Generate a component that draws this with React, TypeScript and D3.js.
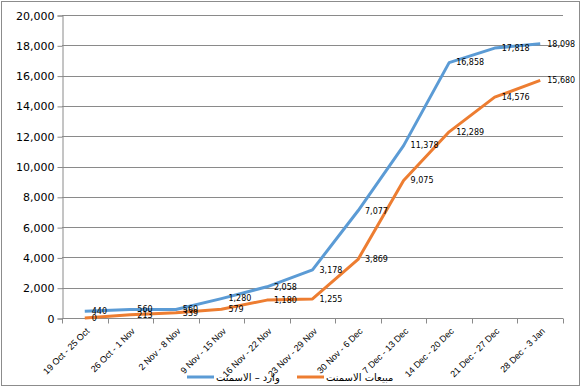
import * as d3 from "d3";
import { useEffect, useRef } from "react";

// weekly periods on the x axis
const weeks = [
  "19 Oct - 25 Oct",
  "26 Oct - 1 Nov",
  "2 Nov - 8 Nov",
  "9 Nov - 15 Nov",
  "16 Nov - 22 Nov",
  "23 Nov - 29 Nov",
  "30 Nov - 6 Dec",
  "7 Dec - 13 Dec",
  "14 Dec - 20 Dec",
  "21 Dec - 27 Dec",
  "28 Dec - 3 Jan",
];

const imports = [440, 560, 560, 1280, 2058, 3178, 7077, 11378, 16858, 17818, 18098];
const sales = [0, 213, 339, 579, 1180, 1255, 3869, 9075, 12289, 14576, 15680];

const yTicks = [0, 2000, 4000, 6000, 8000, 10000, 12000, 14000, 16000, 18000, 20000];

const series = [
  { name: "وارد – الاسمنت", values: imports, color: "#5B9BD5" },
  { name: "مبيعات الاسمنت", values: sales, color: "#ED7D31" },
];

export default function App() {
  const svgRef = useRef<SVGSVGElement>(null);

  useEffect(() => {
    const width = 581;
    const height = 387;
    const margin = { top: 15, right: 18, bottom: 69, left: 62 };

    const svg = d3.select(svgRef.current);
    svg.selectAll("*").remove();

    // outer chart frame
    svg
      .append("rect")
      .attr("x", 1.5)
      .attr("y", 1.5)
      .attr("width", width - 3)
      .attr("height", height - 3)
      .attr("fill", "white")
      .attr("stroke", "#8c8c8c");

    const x = d3
      .scaleBand()
      .domain(weeks)
      .range([margin.left, width - margin.right]);
    const y = d3
      .scaleLinear()
      .domain([0, 20000])
      .range([height - margin.bottom, margin.top]);

    // gridlines
    svg
      .append("g")
      .selectAll("line")
      .data(yTicks.slice(1))
      .enter()
      .append("line")
      .attr("x1", margin.left)
      .attr("x2", width - margin.right)
      .attr("y1", (d) => Math.round(y(d)) + 0.5)
      .attr("y2", (d) => Math.round(y(d)) + 0.5)
      .attr("stroke", "#8a8a8a");

    // y axis
    const yAxis = svg
      .append("g")
      .attr("transform", `translate(${margin.left + 0.5},0.5)`)
      .call(
        d3
          .axisLeft(y)
          .tickValues(yTicks)
          .tickFormat(d3.format(","))
          .tickSize(5)
          .tickPadding(3)
      );
    yAxis.select(".domain").attr("stroke", "#8a8a8a");
    yAxis.selectAll(".tick line").attr("stroke", "#8a8a8a");
    yAxis
      .selectAll(".tick text")
      .attr("fill", "#000")
      .style("font-family", "DejaVu Sans, Verdana, sans-serif")
      .style("font-size", "11px");

    // x axis with ticks at band boundaries
    const xg = svg
      .append("g")
      .attr("transform", `translate(0,${Math.round(y(0)) + 0.5})`);
    xg.append("line")
      .attr("x1", margin.left)
      .attr("x2", width - margin.right)
      .attr("stroke", "#8a8a8a");
    const bounds = weeks.map((w) => x(w) as number).concat([width - margin.right]);
    xg.selectAll(".tk")
      .data(bounds)
      .enter()
      .append("line")
      .attr("x1", (d) => Math.round(d) + 0.5)
      .attr("x2", (d) => Math.round(d) + 0.5)
      .attr("y1", 0)
      .attr("y2", 5)
      .attr("stroke", "#8a8a8a");
    xg.selectAll(".lbl")
      .data(weeks)
      .enter()
      .append("text")
      .attr(
        "transform",
        (d) => `translate(${(x(d) as number) + x.bandwidth() / 2 + 3},${11}) rotate(-45)`
      )
      .attr("text-anchor", "end")
      .attr("dy", "0.35em")
      .style("font-family", "Liberation Sans, Arial, sans-serif")
      .style("font-size", "9px")
      .attr("fill", "#000")
      .text((d) => d);

    const cx = (i: number) => (x(weeks[i]) as number) + x.bandwidth() / 2;
    const line = d3
      .line<number>()
      .x((d, i) => cx(i))
      .y((d) => y(d));

    series.forEach((s) => {
      svg
        .append("path")
        .datum(s.values)
        .attr("d", line)
        .attr("fill", "none")
        .attr("stroke", s.color)
        .attr("stroke-width", 3)
        .attr("stroke-linejoin", "round");
    });

    // data labels, to the right of each point
    series.forEach((s) => {
      svg
        .append("g")
        .selectAll("text")
        .data(s.values)
        .enter()
        .append("text")
        .attr("x", (d, i) => cx(i) + 7)
        .attr("y", (d) => y(d))
        .attr("dy", "0.35em")
        .style("font-family", "DejaVu Sans, Verdana, sans-serif")
        .style("font-size", "8px")
        .attr("fill", "#000")
        .text((d) => d3.format(",")(d));
    });

    // legend
    const legend = svg.append("g").attr("transform", "translate(0,377)");
    const legendPos = [187, 297];
    series.forEach((s, i) => {
      legend
        .append("line")
        .attr("x1", legendPos[i])
        .attr("x2", legendPos[i] + 27)
        .attr("stroke", s.color)
        .attr("stroke-width", 3);
      legend
        .append("text")
        .attr("x", legendPos[i] + 29)
        .attr("dy", "0.35em")
        .attr("text-anchor", "start")
        .style("font-family", "DejaVu Sans, sans-serif")
        .style("font-size", "10px")
        .attr("fill", "#000")
        .text(s.name);
    });
  }, []);

  return (
    <svg
      ref={svgRef}
      width={581}
      height={387}
      style={{ position: "absolute", left: 0, top: 0 }}
    />
  );
}
